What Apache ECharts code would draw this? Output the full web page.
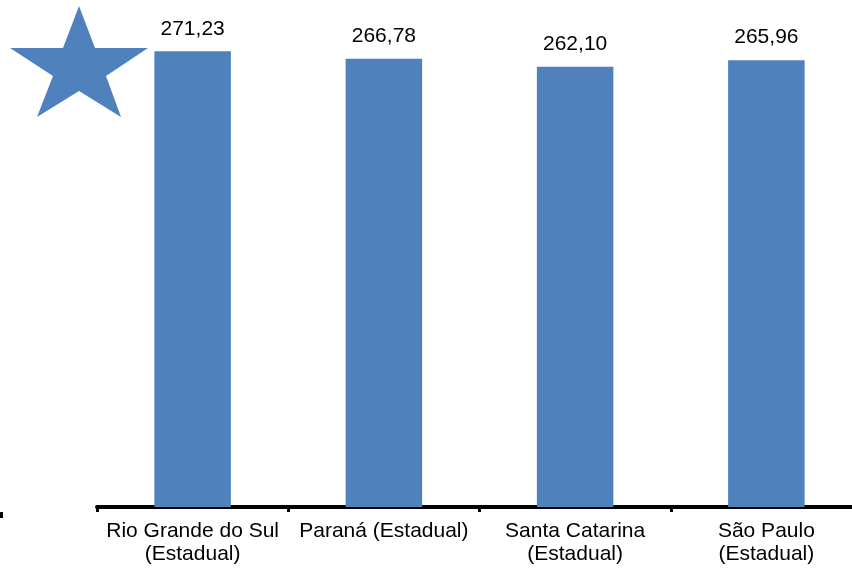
<!DOCTYPE html>
<html>
<head>
<meta charset="utf-8">
<script src="https://cdn.jsdelivr.net/npm/echarts@6/dist/echarts.min.js"></script>
<style>html,body{margin:0;padding:0;background:#fff;}#c{width:852px;height:568px;}</style>
</head>
<body>
<div id="c"></div>
<script>
var categories = ['Rio Grande do Sul\n(Estadual)', 'Paraná (Estadual)', 'Santa Catarina\n(Estadual)', 'São Paulo\n(Estadual)'];
var values = [271.23, 266.78, 262.10, 265.96];
var yMin = 0;
var yMax = 300;

var chart = echarts.init(document.getElementById('c'), null, {renderer: 'canvas'});
chart.setOption({
  animation: false,
  backgroundColor: '#ffffff',
  grid: {left: 97, width: 765, top: 3, bottom: 61, containLabel: false, outerBoundsMode: 'none'},
  xAxis: {
    type: 'category',
    data: categories,
    axisLine: {show: true, lineStyle: {color: '#000', width: 4}},
    axisTick: {show: true, length: 5, lineStyle: {color: '#000', width: 3}},
    axisLabel: {
      color: '#000', fontFamily: 'Liberation Sans, Arial, sans-serif',
      fontSize: 21, lineHeight: 23, margin: 13, interval: 0
    }
  },
  yAxis: {type: 'value', min: yMin, max: yMax, show: false, splitLine: {show: false}},
  series: [{
    type: 'bar',
    data: values,
    barCategoryGap: '60%',
    itemStyle: {color: '#4F81BD'},
    label: {
      show: true, position: 'top', distance: 12,
      color: '#000', fontFamily: 'Liberation Sans, Arial, sans-serif', fontSize: 21,
      formatter: function (p) { return p.value.toFixed(2).replace('.', ','); }
    }
  }],
  graphic: [
    {type: 'polygon', shape: {points: [[79,6],[95,48],[148,48],[106,76],[121,117],[79,91],[37,117],[53,76],[10,48],[63,48]]}, style: {fill: '#4F81BD'}},
    {type: 'rect', shape: {x: 0, y: 512, width: 3, height: 6}, style: {fill: '#000'}}
  ]
});
</script>
</body>
</html>
